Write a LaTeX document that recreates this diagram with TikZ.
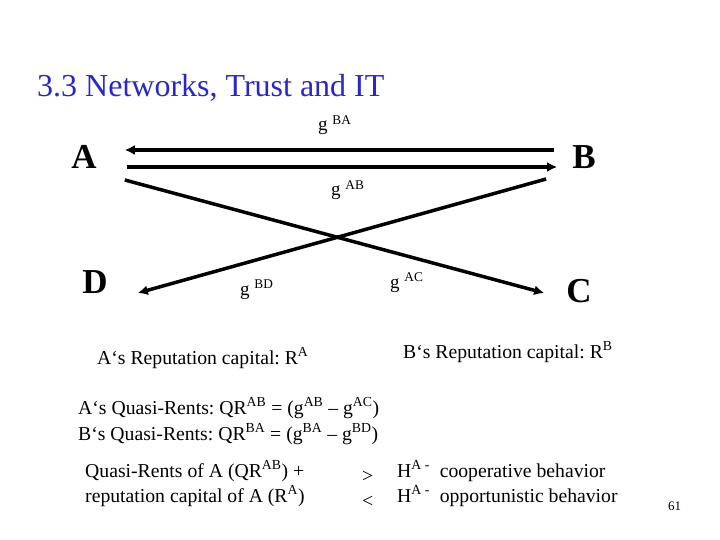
\documentclass[tikz,border=0pt]{standalone}
\usepackage{fontspec}
\setmainfont{Liberation Serif}
\usepackage{tikz}
\usetikzlibrary{arrows.meta}
\definecolor{TitleBlue}{RGB}{40, 40, 200}

\begin{document}
\frenchspacing
\begin{tikzpicture}[x=1pt, y=-1pt,
  ttl/.style={anchor=base west, inner sep=0pt, text=TitleBlue, font=\fontsize{32}{38}\selectfont},
  party/.style={inner sep=0pt, font=\fontsize{35}{40}\selectfont\bfseries},
  gain/.style={anchor=base west, inner sep=0pt, font=\fontsize{19}{22}\selectfont},
  txt/.style={anchor=base west, inner sep=0pt, font=\fontsize{19.7}{23}\selectfont},
  flow/.style={-{Latex[length=10pt,width=10pt]}, line width=4pt},
  cross/.style={-{Latex[length=10pt,width=10pt]}, line width=3.5pt}]
  \useasboundingbox (0,0) rectangle (720,540);
  \node[ttl] (title) at (37,97) {3.3 Networks, Trust and IT};
  % the four parties
  \node[party] (A) at (84,157) {A};
  \node[party] (B) at (584,157) {B};
  \node[party] (D) at (95,282) {D};
  \node[party] (C) at (579,291) {C};
  % gains of the relations
  \draw[flow] ([xshift=-18pt,yshift=7pt]B.west) -- ([xshift=28pt,yshift=7pt]A.east);
  \draw[flow] ([xshift=30pt,yshift=-10pt]A.east) -- ([xshift=-15pt,yshift=-10pt]B.west);
  \draw[cross] ([xshift=28pt,yshift=-23pt]A.east) -- ([xshift=-22pt,yshift=-2pt]C.west);
  \draw[cross] ([xshift=-26pt,yshift=-22pt]B.west) -- ([xshift=30pt,yshift=-11pt]D.east);
  \node[gain] (gBA) at (318,131) {g \textsuperscript{BA}};
  \node[gain] (gAB) at (331,196) {g \textsuperscript{AB}};
  \node[gain] (gBD) at (240,295) {g \textsuperscript{BD}};
  \node[gain] (gAC) at (390,288) {g \textsuperscript{AC}};
  % reputation and quasi-rents
  \node[txt] (repA) at (97,364) {A‘s Reputation capital: R\textsuperscript{A}};
  \node[txt] (repB) at (403,358) {B‘s Reputation capital: R\textsuperscript{B}};
  \node[txt] (qrA) at (78,414) {A‘s Quasi-Rents: QR\textsuperscript{AB} = (g\textsuperscript{AB} – g\textsuperscript{AC})};
  \node[txt] (qrB) at (78,440) {B‘s Quasi-Rents: QR\textsuperscript{BA} = (g\textsuperscript{BA} – g\textsuperscript{BD})};
  \node[txt] (sum1) at (85,477) {Quasi-Rents of A (QR\textsuperscript{AB}) +};
  \node[txt] (sum2) at (85,502) {reputation capital of A (R\textsuperscript{A})};
  \node[txt] (gt) at (362,482) {>};
  \node[txt] (lt) at (362,507) {<};
  \node[txt] (coop) at (397,477) {H\textsuperscript{A -}\ \ cooperative behavior};
  \node[txt] (opp) at (397,502) {H\textsuperscript{A -}\ \ opportunistic behavior};
  \node[anchor=base west, inner sep=0pt, font=\fontsize{13}{15}\selectfont] (page) at (668,510) {61};
\end{tikzpicture}
\end{document}
